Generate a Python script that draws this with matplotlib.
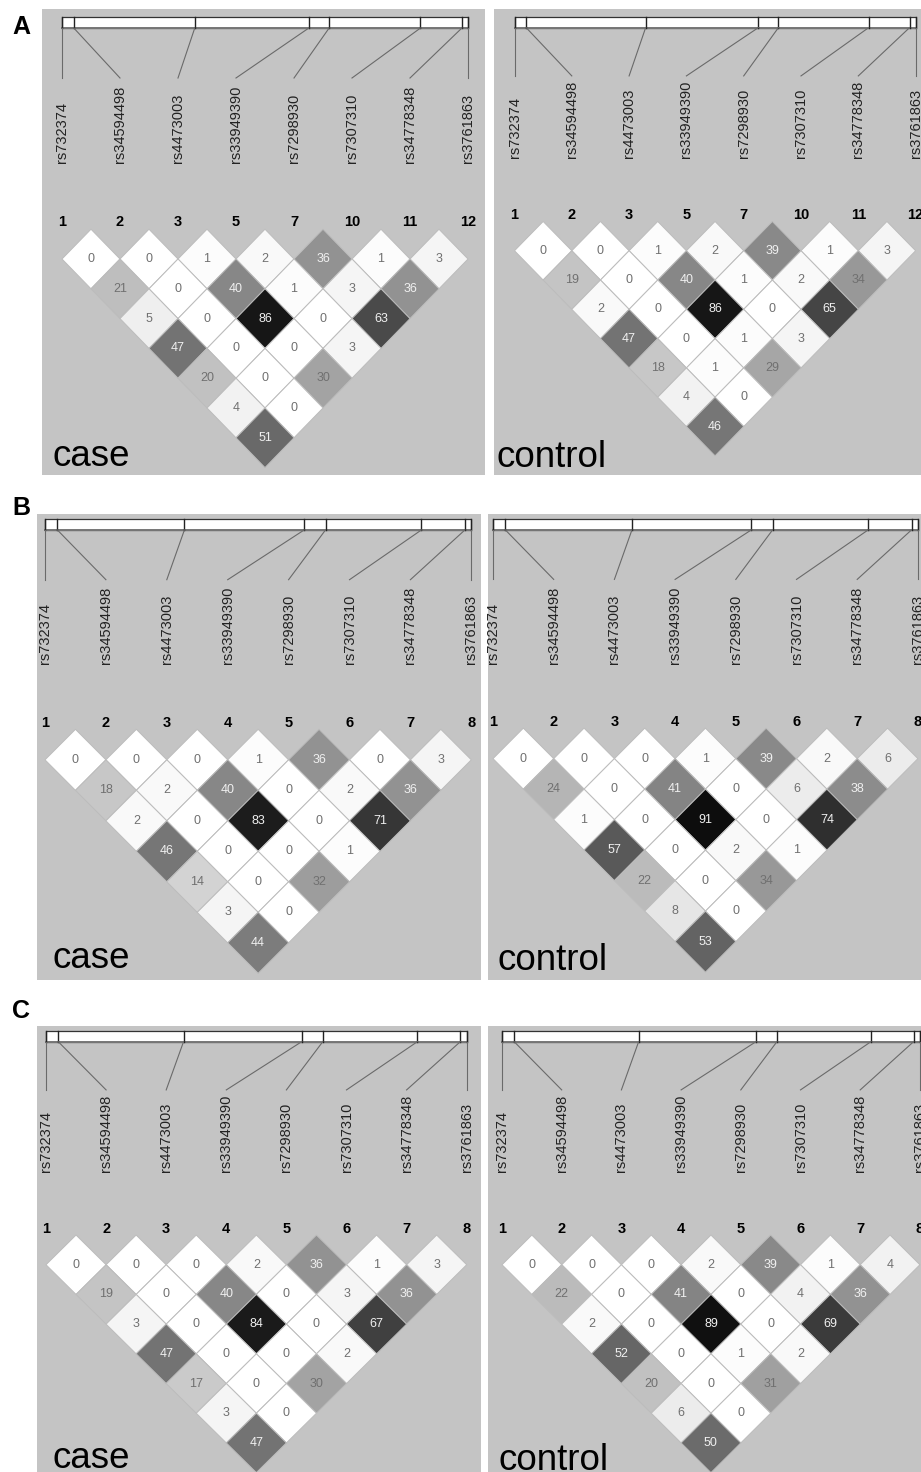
"""Haploview-style LD (r^2) triangles for the 8-SNP region: case vs control, panels A-C."""

import matplotlib

matplotlib.use("Agg")
import matplotlib.pyplot as plt
from matplotlib.patches import Polygon, Rectangle

plt.rcParams["font.family"] = ["Liberation Sans", "DejaVu Sans"]

SNPS = ["rs732374", "rs34594498", "rs4473003", "rs33949390",
        "rs7298930", "rs7307310", "rs34778348", "rs3761863"]
MARKERS_A = ["1", "2", "3", "5", "7", "10", "11", "12"]
MARKERS_BC = ["1", "2", "3", "4", "5", "6", "7", "8"]
# relative physical position of each SNP along the region bar
POSITIONS = [0.0, 0.029, 0.327, 0.608, 0.658, 0.883, 0.985, 1.0]

# r^2 x 100, one list per marker distance (adjacent pairs first)
A_CASE = [[0, 0, 1, 2, 36, 1, 3], [21, 0, 40, 1, 3, 36], [5, 0, 86, 0, 63],
          [47, 0, 0, 3], [20, 0, 30], [4, 0], [51]]
A_CONTROL = [[0, 0, 1, 2, 39, 1, 3], [19, 0, 40, 1, 2, 34], [2, 0, 86, 0, 65],
             [47, 0, 1, 3], [18, 1, 29], [4, 0], [46]]
B_CASE = [[0, 0, 0, 1, 36, 0, 3], [18, 2, 40, 0, 2, 36], [2, 0, 83, 0, 71],
          [46, 0, 0, 1], [14, 0, 32], [3, 0], [44]]
B_CONTROL = [[0, 0, 0, 1, 39, 2, 6], [24, 0, 41, 0, 6, 38], [1, 0, 91, 0, 74],
             [57, 0, 2, 1], [22, 0, 34], [8, 0], [53]]
C_CASE = [[0, 0, 0, 2, 36, 1, 3], [19, 0, 40, 0, 3, 36], [3, 0, 84, 0, 67],
          [47, 0, 0, 2], [17, 0, 30], [3, 0], [47]]
C_CONTROL = [[0, 0, 0, 2, 39, 1, 4], [22, 0, 41, 0, 4, 36], [2, 0, 89, 0, 69],
             [52, 0, 1, 2], [20, 0, 31], [6, 0], [50]]

BG = "#c4c4c4"

# (values, markers, group label, panel rect x0,x1,y0,y1, first marker x, marker step,
#  bar top, numbers y, diamond half-height, group label x, group label baseline)
PANELS = [
    (A_CASE, MARKERS_A, "case", (42, 485, 9, 475), 62, 58.0, 17, 222, 29.8, 52, 466),
    (A_CONTROL, MARKERS_A, "control", (494, 940, 9, 475), 514.5, 57.3, 17, 215, 29.3, 496, 467),
    (B_CASE, MARKERS_BC, "case", (37, 481, 514, 980), 45, 60.9, 519, 723, 30.5, 52, 968),
    (B_CONTROL, MARKERS_BC, "control", (487.5, 940, 514, 980), 493, 60.7, 519, 722, 30.5, 497, 970),
    (C_CASE, MARKERS_BC, "case", (37, 481, 1026, 1500), 46, 60.1, 1031, 1229, 29.7, 52, 1468),
    (C_CONTROL, MARKERS_BC, "control", (487.5, 940, 1026, 1500), 502, 59.7, 1031, 1229, 29.7, 498, 1470),
]
LETTERS = [("A", 21, 27), ("B", 21, 508), ("C", 21, 1011)]


def cell_shade(r2):
    return (1.0 - r2 / 100.0) ** 1.25


def draw_panel(ax, values, markers, rect, m1, dx, bar_top, num_y, vstep):
    x0, x1, y0, y1 = rect
    ax.add_patch(Rectangle((x0, y0), x1 - x0, y1 - y0, facecolor=BG, edgecolor="none"))
    n = len(SNPS)
    xs = [m1 + i * dx for i in range(n)]
    s = (num_y - bar_top) / 205.0

    # region bar with SNP ticks, linked to the evenly spaced labels
    span = xs[-1] - xs[0]
    bx = [xs[0] + p * span for p in POSITIONS]
    bar_h = 11 * s
    ax.add_patch(Rectangle((xs[0], bar_top), span, bar_h, facecolor="white",
                           edgecolor="#333333", linewidth=0.9))
    ax.plot([xs[0], xs[-1]], [bar_top + bar_h, bar_top + bar_h], color="#777777", lw=1.4)
    line_end = bar_top + 61 * s
    label_bottom = bar_top + 146 * s
    for i in range(n):
        ax.plot([bx[i], bx[i]], [bar_top, bar_top + bar_h], color="#222222", lw=1.0)
        ax.plot([bx[i], xs[i]], [bar_top + bar_h, line_end], color="#6a6a6a", lw=0.8)
        ax.text(xs[i], label_bottom, SNPS[i], rotation=90, ha="center", va="bottom",
                fontsize=10.5, color="#222222", clip_on=True)
        ax.text(xs[i], num_y, markers[i], ha="center", va="center", fontsize=10.5,
                fontweight="bold", color="black", clip_on=True)

    # LD diamonds: pair (i, j) sits below the midpoint of markers i and j
    row1 = num_y + 37 * s
    hw = dx / 2.0
    for d, row in enumerate(values, start=1):
        for i, r2 in enumerate(row):
            j = i + d
            cx = (xs[i] + xs[j]) / 2.0
            cy = row1 + (d - 1) * vstep
            g = cell_shade(r2)
            ax.add_patch(Polygon([(cx, cy - vstep), (cx + hw, cy), (cx, cy + vstep), (cx - hw, cy)],
                                 closed=True, facecolor=(g, g, g), edgecolor="#bcbcbc", lw=0.7))
            tc = "#f0f0f0" if g < 0.59 else "#707070"
            ax.text(cx, cy, str(r2), ha="center", va="center", fontsize=9, color=tc, clip_on=True)


fig = plt.figure(figsize=(9.21, 14.72), dpi=100)
ax = fig.add_axes([0, 0, 1, 1])
ax.set_xlim(0, 921)
ax.set_ylim(1472, 0)
ax.axis("off")

for vals, mk, grp, rect, m1, dx, bt, ny, vs, gx, gy in PANELS:
    draw_panel(ax, vals, mk, rect, m1, dx, bt, ny, vs)
    ax.text(gx, gy, grp, ha="left", va="baseline", fontsize=26.5, color="black", clip_on=True)

for letter, x, y in LETTERS:
    ax.text(x, y, letter, ha="center", va="center", fontsize=18, fontweight="bold")

fig.savefig("out.png", dpi=100, facecolor="white")
